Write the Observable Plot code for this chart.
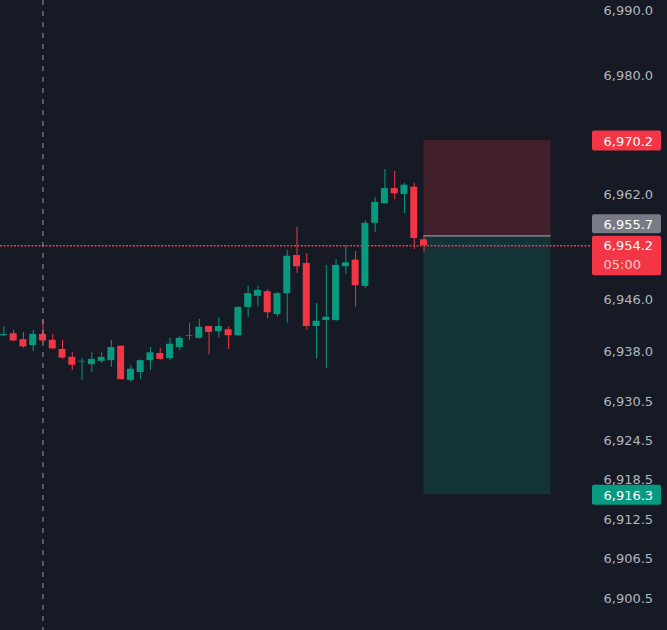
<!DOCTYPE html>
<html><head><meta charset="utf-8">
<script src="https://cdn.jsdelivr.net/npm/d3@7"></script>
<script src="https://cdn.jsdelivr.net/npm/@observablehq/plot@0.6"></script>
<style>
html,body{margin:0;padding:0;background:#161a25;overflow:hidden;}
#chart svg{display:block;}
</style></head><body><div id="chart"></div>
<script>
// ---- data ----
const opens  = [6940.5,6940.8,6939.9,6939.0,6940.7,6939.8,6938.4,6937.2,6936.5,6936.1,6936.6,6936.7,6938.9,6933.7,6934.9,6936.7,6937.8,6937.0,6938.7,6940.4,6940.1,6941.9,6941.1,6941.4,6940.5,6944.8,6946.5,6947.2,6943.7,6946.9,6952.7,6951.5,6941.9,6942.8,6942.8,6951.0,6952.0,6948.0,6957.6,6960.6,6962.9,6962.0,6963.1,6955.1];
const highs  = [6941.9,6941.3,6941.0,6941.3,6942.9,6940.7,6939.8,6937.9,6937.0,6937.9,6937.9,6939.8,6938.9,6936.0,6936.8,6938.7,6938.6,6940.1,6940.4,6942.4,6943.0,6941.9,6943.3,6941.8,6944.9,6948.0,6948.0,6947.5,6947.1,6953.5,6957.0,6953.0,6945.4,6951.2,6952.1,6954.2,6953.3,6958.0,6961.5,6965.8,6965.5,6963.7,6963.7,6955.6];
const lows   = [6940.4,6939.6,6938.6,6938.1,6939.5,6938.4,6936.9,6935.2,6933.7,6934.9,6936.3,6935.7,6933.8,6933.4,6933.8,6935.2,6936.7,6936.7,6938.2,6939.8,6940.0,6937.6,6940.1,6938.4,6940.4,6943.3,6944.9,6943.1,6943.3,6942.4,6950.0,6941.3,6937.0,6935.5,6942.7,6949.8,6944.9,6947.7,6956.2,6960.5,6961.2,6959.1,6953.6,6953.2];
const closes = [6940.7,6939.7,6938.8,6940.7,6939.7,6938.5,6937.1,6936.0,6936.6,6936.9,6937.2,6938.7,6933.8,6935.4,6936.7,6937.9,6936.9,6939.2,6940.1,6940.5,6941.8,6941.0,6941.9,6940.5,6944.8,6946.9,6947.4,6944.0,6946.9,6952.6,6951.0,6941.9,6942.7,6943.3,6951.2,6951.6,6948.1,6957.6,6960.8,6962.9,6962.1,6963.4,6955.3,6954.2];
const tickValues = [6990.0, 6980.0, 6962.0, 6946.0, 6938.0, 6930.5, 6924.5, 6918.5, 6912.5, 6906.5, 6900.5];
const stopLoss = 6970.2;
const entry = 6955.7;
const lastPrice = 6954.2;
const takeProfit = 6916.3;
const countdown = "05:00";
const positionStart = 43;
const positionEnd = 56;
const markerIndex = 4;

// ---- build ----
const candles = opens.map((o, i) => ({i, open: o, high: highs[i], low: lows[i], close: closes[i]}));
const GREEN = "#089981", RED = "#f23645";
const col = d => d.close >= d.open ? GREEN : RED;
const fmt = d3.format(",.1f");
const half = 0.358;

const plot = Plot.plot({
  width: 667, height: 630,
  marginLeft: 0, marginRight: 77, marginTop: 0, marginBottom: 0,
  style: {background: "#161a25", fontFamily: "DejaVu Sans, sans-serif", fontSize: "13px", overflow: "visible"},
  x: {type: "linear", domain: [-0.348, 60.04], axis: null},
  y: {domain: [6895.63, 6991.52], axis: null},
  marks: [
    // position zones
    Plot.rect([{x1: positionStart, x2: positionEnd, y1: entry, y2: stopLoss}], {x1: "x1", x2: "x2", y1: "y1", y2: "y2", fill: RED, fillOpacity: 0.2}),
    Plot.rect([{x1: positionStart, x2: positionEnd, y1: takeProfit, y2: entry}], {x1: "x1", x2: "x2", y1: "y1", y2: "y2", fill: GREEN, fillOpacity: 0.2}),
    // last price dotted line
    Plot.ruleY([lastPrice], {stroke: RED, strokeWidth: 1.5, strokeDasharray: "2,1.5"}),
    // entry line
    Plot.ruleY([entry], {x1: positionStart, x2: positionEnd, stroke: "#9598a1", strokeWidth: 1.2}),
    // wicks & bodies
    Plot.ruleX(candles, {x: "i", y1: "low", y2: "high", stroke: col, strokeWidth: 1}),
    Plot.rect(candles, {x1: d => d.i - half, x2: d => d.i + half, y1: "open", y2: "close", fill: col}),
    // vertical dashed marker
    Plot.ruleX([markerIndex], {stroke: "#9598a1", strokeWidth: 1, strokeDasharray: "5,6"}),
    // axis
    Plot.axisY(tickValues, {anchor: "right", tickSize: 0, tickPadding: 13, tickFormat: fmt, color: "#b2b5be", label: null, fontSize: 13}),
    // price labels
    Plot.rect([stopLoss], {y1: d => d, y2: d => d, insetLeft: 592, insetRight: -71, insetTop: -9.5, insetBottom: -10.5, fill: RED, rx: 2}),
    Plot.rect([entry], {y1: d => d, y2: d => d, insetLeft: 592, insetRight: -71, insetTop: -21, insetBottom: 2, fill: "#787b86", rx: 2}),
    Plot.rect([lastPrice], {y1: d => d, y2: d => d, insetLeft: 592, insetRight: -71, insetTop: -9.5, insetBottom: -30, fill: RED, rx: 2}),
    Plot.rect([takeProfit], {y1: d => d, y2: d => d, insetLeft: 592, insetRight: -71, insetTop: -9.5, insetBottom: -10.5, fill: GREEN, rx: 2}),
    Plot.text([stopLoss], {y: d => d, text: fmt, frameAnchor: "right", dx: 13, dy: 1, textAnchor: "start", fill: "white", fontSize: 13}),
    Plot.text([entry], {y: d => d, text: fmt, frameAnchor: "right", dx: 13, dy: -11, textAnchor: "start", fill: "white", fontSize: 13}),
    Plot.text([lastPrice], {y: d => d, text: fmt, frameAnchor: "right", dx: 13, dy: 0.5, textAnchor: "start", fill: "white", fontSize: 13}),
    Plot.text([lastPrice], {y: d => d, text: () => countdown, frameAnchor: "right", dx: 13, dy: 19, textAnchor: "start", fill: "white", fillOpacity: 0.75, fontSize: 13}),
    Plot.text([takeProfit], {y: d => d, text: fmt, frameAnchor: "right", dx: 13, dy: 1, textAnchor: "start", fill: "white", fontSize: 13})
  ]
});
document.getElementById("chart").appendChild(plot);
</script>
</body></html>
